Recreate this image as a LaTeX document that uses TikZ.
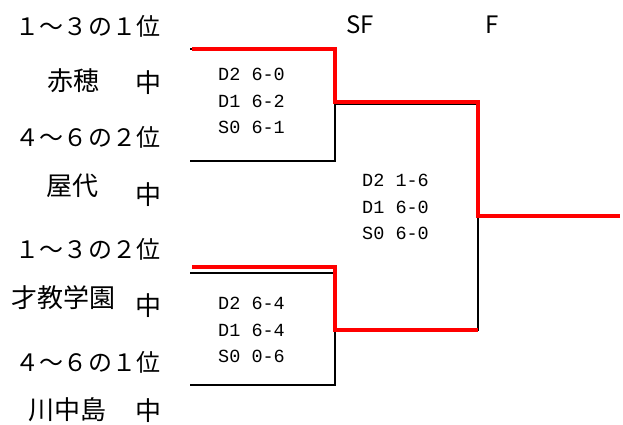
\documentclass[tikz,border=0pt]{standalone}
\usepackage{fontspec}
\setmainfont{Noto Sans CJK JP}
\newfontfamily\scorefont{Liberation Mono}
\usetikzlibrary{positioning,calc}

\begin{document}
\begin{tikzpicture}[x=1pt, y=-1pt,
  rank/.style={font=\fontsize{24}{24}\selectfont, inner sep=0},
  team/.style={font=\fontsize{26}{26}\selectfont, inner sep=0},
  score/.style={font=\scorefont\fontsize{18.5}{26.5}\selectfont, align=left, inner sep=0, anchor=west},
  win/.style={red, line width=4.5pt},
  lose/.style={black, line width=1.5pt}]

\useasboundingbox (0,0) rectangle (623,425);

% headers
\path (360, 25) node[rank] (sf) {SF};
\path (492, 25) node[rank] (f) {F};

% left side
\path (88, 26) node[rank] (r1) {１～３の１位};
\path (73, 81) node[team] (akaho) {赤穂};
\path (148, 83) node[team] (c1) {中};
\path (88, 137) node[rank] (r2) {４～６の２位};
\path (72, 186) node[team] (yashiro) {屋代};
\path (148, 195) node[team] (c2) {中};
\path (88, 249) node[rank] (r3) {１～３の２位};
\path (63, 298) node[team] (saikyo) {才教学園};
\path (148, 306) node[team] (c3) {中};
\path (88, 362) node[rank] (r4) {４～６の１位};
\path (67, 410) node[team] (kawanaka) {川中島};
\path (148, 411) node[team] (c4) {中};

% bracket corners
\coordinate (t1) at (190, 49);
\coordinate (t2) at (190, 161);
\coordinate (t3) at (190, 273);
\coordinate (t4) at (190, 385);
\coordinate (s1) at (335, 104);
\coordinate (s2) at (335, 330);
\coordinate (fin) at (478, 216);
\coordinate (champ) at (620, 216);

% black lines
\draw[lose] (t1) -| (s1);
\draw[lose] (t2) -| (s1);
\draw[lose] (t3) -| (s2);
\draw[lose] (t4) -| (s2);
\draw[lose] (s1) -| (fin);
\draw[lose] (s2) -| (fin);
\draw[lose] (fin) -- (champ);

% winners
\draw[win] ($(t1)+(2,0)$) -| ($(s1)+(0,-2)$) -| (fin) -- (champ);
\draw[win] ($(t3)+(2,-6)$) -| (s2) -- ($(s2)+(143,0)$);

% scores
\path (218, 101) node[score] (sc1) {D2 6-0\\D1 6-2\\S0 6-1};
\path (218, 330) node[score] (sc2) {D2 6-4\\D1 6-4\\S0 0-6};
\path (362, 207) node[score] (sc3) {D2 1-6\\D1 6-0\\S0 6-0};
\end{tikzpicture}
\end{document}
